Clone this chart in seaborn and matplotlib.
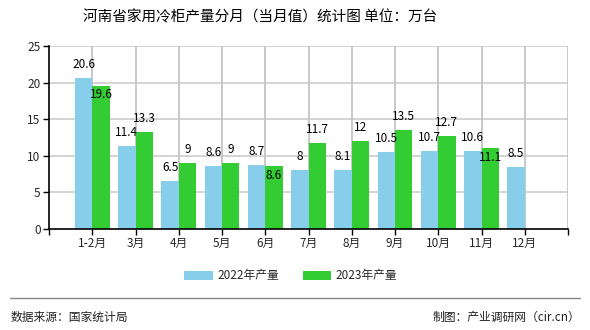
import matplotlib
matplotlib.use("Agg")
import matplotlib.pyplot as plt
import seaborn as sns
import pandas as pd
import numpy as np
from matplotlib.patches import Patch

months = ["1-2月", "3月", "4月", "5月", "6月", "7月", "8月", "9月", "10月", "11月", "12月"]
prod_2022 = [20.6, 11.4, 6.5, 8.6, 8.7, 8, 8.1, 10.5, 10.7, 10.6, 8.5]
prod_2023 = [19.6, 13.3, 9, 9, 8.6, 11.7, 12, 13.5, 12.7, 11.1, None]
series_names = ["2022年产量", "2023年产量"]
colors = ["#87CEEB", "#33CC33"]
title = "河南省家用冷柜产量分月（当月值）统计图 单位：万台"
source_text = "数据来源：国家统计局"
credit_text = "制图：产业调研网（cir.cn）"

sns.set_theme(style="white")
plt.rcParams['font.family'] = ['Noto Sans CJK SC', 'DejaVu Sans']

df = pd.DataFrame({
    "month": months * 2,
    "value": prod_2022 + prod_2023,
    "series": [series_names[0]] * len(months) + [series_names[1]] * len(months),
})

fig = plt.figure(figsize=(5.9, 3.3), dpi=100)
ax = fig.add_axes([49/590, 1 - 229/330, (568 - 49)/590, (229 - 46)/330])

sns.barplot(data=df, x="month", y="value", hue="series", order=months,
            hue_order=series_names, palette=colors, ax=ax, width=0.8,
            saturation=1, legend=False, errorbar=None, linewidth=0, zorder=3)

ax.set_xlim(-1, len(months))
ax.set_ylim(0, 25)
ax.set_yticks(np.arange(0, 26, 5))
xt = np.arange(-1, len(months) + 1)
for x in xt[1:]:
    ax.axvline(x, color="#c4c4c4", linewidth=1.3, zorder=2)
for y in np.arange(5, 26, 5):
    ax.axhline(y, color="#cccccc", linewidth=1.2, zorder=1)
ax.set_xticks(xt)
ax.set_xticklabels([""] + months + [""], fontsize=8.5)
ax.tick_params(axis="y", labelsize=8.5, length=4, width=1, color="black", direction="out", pad=2, left=True)
ax.tick_params(axis="x", length=4, width=1, color="black", direction="out", pad=2, bottom=True)
ax.set_xlabel("")
ax.set_ylabel("")
for s in ["top", "right"]:
    ax.spines[s].set_visible(False)
for s in ["left", "bottom"]:
    ax.spines[s].set_color("black")
    ax.spines[s].set_linewidth(1.2)
    ax.spines[s].set_zorder(5)

# value labels
c22, c23 = ax.containers[0], ax.containers[1]
for i, p in enumerate(c22.patches):
    v = prod_2022[i]
    ax.annotate(f"{v:g}", (p.get_x() + p.get_width()/2, p.get_height()),
                xytext=(0, 5), textcoords="offset points", ha="center", va="bottom",
                fontsize=8.5, color="black", zorder=6)
for i, p in enumerate(c23.patches):
    v = prod_2023[i]
    if v is None or np.isnan(p.get_height()):
        continue
    txt = f"{v:g}"
    close = abs(v - prod_2022[i]) <= 1.0 and len(txt) > 1
    if close:
        ax.annotate(txt, (p.get_x() + p.get_width()/2, p.get_height()),
                    xytext=(0, -2), textcoords="offset points", ha="center", va="top",
                    fontsize=8.5, color="black", zorder=6)
    else:
        ax.annotate(txt, (p.get_x() + p.get_width()/2, p.get_height()),
                    xytext=(0, 5), textcoords="offset points", ha="center", va="bottom",
                    fontsize=8.5, color="black", zorder=6)

fig.text(260/590, 1 - 17/330, title, ha="center", va="center", fontsize=10.5, color="black")

# legend
handles = [Patch(facecolor=c, edgecolor="none") for c in colors]
fig.legend(handles, series_names, loc="center", bbox_to_anchor=(291/590, 1 - 276/330),
           ncol=2, frameon=False, fontsize=8.5, handlelength=2.4, handleheight=0.9,
           columnspacing=2.0, handletextpad=0.4)

# footer
fig.add_artist(plt.Line2D([10/590, 580/590], [1 - 298/330, 1 - 298/330],
                          color="#888888", linewidth=1, transform=fig.transFigure))
fig.text(11/590, 1 - 317/330, source_text, ha="left", va="center", fontsize=8.5, color="#222222")
fig.text(580/590, 1 - 317/330, credit_text, ha="right", va="center", fontsize=8.5, color="#222222")

fig.savefig("out.png", dpi=100)
